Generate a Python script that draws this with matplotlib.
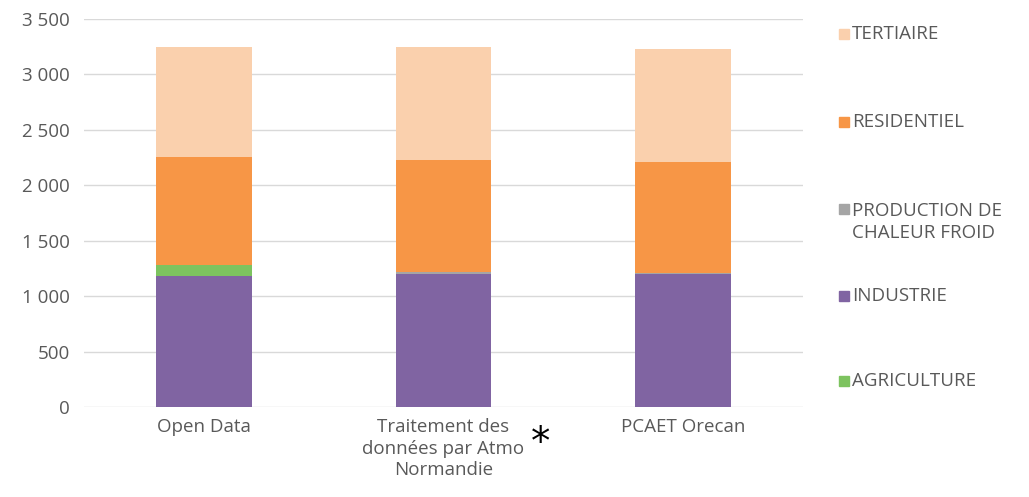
import numpy as np
import matplotlib
matplotlib.use("Agg")
import matplotlib.pyplot as plt
from matplotlib.patches import Rectangle

# ── Data ─────────────────────────────────────────────
categories = ["Open Data", "Traitement des\ndonnées par Atmo\nNormandie", "PCAET Orecan"]
# stacking order bottom -> top as drawn in the source chart
stack_names = ["INDUSTRIE", "AGRICULTURE", "PRODUCTION DE\nCHALEUR FROID", "RESIDENTIEL", "TERTIAIRE"]
industrie = [1185, 1202, 1200]
agriculture = [95, 0, 0]
production = [0, 18, 5]
residentiel = [975, 1007, 1004]
tertiaire = [991, 1019, 1019]
yticks = [0, 500, 1000, 1500, 2000, 2500, 3000, 3500]

# legend order top -> bottom
legend_names = ["TERTIAIRE", "RESIDENTIEL", "PRODUCTION DE\nCHALEUR FROID", "INDUSTRIE", "AGRICULTURE"]

colors = {"INDUSTRIE": "#8064A2", "AGRICULTURE": "#7DC35F",
          "PRODUCTION DE\nCHALEUR FROID": "#A5A5A5",
          "RESIDENTIEL": "#F79646", "TERTIAIRE": "#FAD0AD"}
TEXT = "#595959"

plt.rcParams["font.family"] = ["Open Sans", "DejaVu Sans"]
FS = 13.5

fig = plt.figure(figsize=(10.29, 4.97), dpi=100)
ax = fig.add_axes([84 / 1029, 1 - 407 / 497, (803 - 84) / 1029, (407 - 19) / 497])

x = np.arange(len(categories))
bottom = np.zeros(len(categories))
for name, vals in zip(stack_names, [industrie, agriculture, production, residentiel, tertiaire]):
    ax.bar(x, vals, bottom=bottom, width=0.4, color=colors[name], zorder=3)
    bottom += np.array(vals)

ax.set_xlim(-0.5, 2.5)
ax.set_ylim(0, 3500)
ax.set_yticks(yticks)
ax.set_yticklabels([f"{v:,}".replace(",", " ") for v in yticks])
ax.set_xticks(x)
ax.set_xticklabels(categories, linespacing=1.25)
ax.tick_params(axis="both", length=0, colors=TEXT, labelsize=FS)
ax.tick_params(axis="x", pad=8)
ax.tick_params(axis="y", pad=10)
ax.grid(axis="y", color="#D9D9D9", linewidth=1, zorder=0)
for s in ax.spines.values():
    s.set_visible(False)

# asterisk next to the middle label
fig.text(541 / 1029, 1 - 443 / 497, "*", fontsize=28, color="black",
         ha="center", va="center", family="DejaVu Sans")

# ── Legend (manual) ───────────────────────────────────
legend_y = [34, 122, 222, 296, 381]
for name, yy in zip(legend_names, legend_y):
    first_line_y = yy - 13 if "\n" in name else yy
    fig.patches.append(Rectangle((839 / 1029, 1 - (first_line_y + 5) / 497),
                                 10 / 1029, 10 / 497, color=colors[name],
                                 transform=fig.transFigure))
    fig.text(852 / 1029, 1 - yy / 497, name, fontsize=FS, color=TEXT,
             ha="left", va="center", linespacing=1.3)

fig.savefig("out.png", dpi=100)
